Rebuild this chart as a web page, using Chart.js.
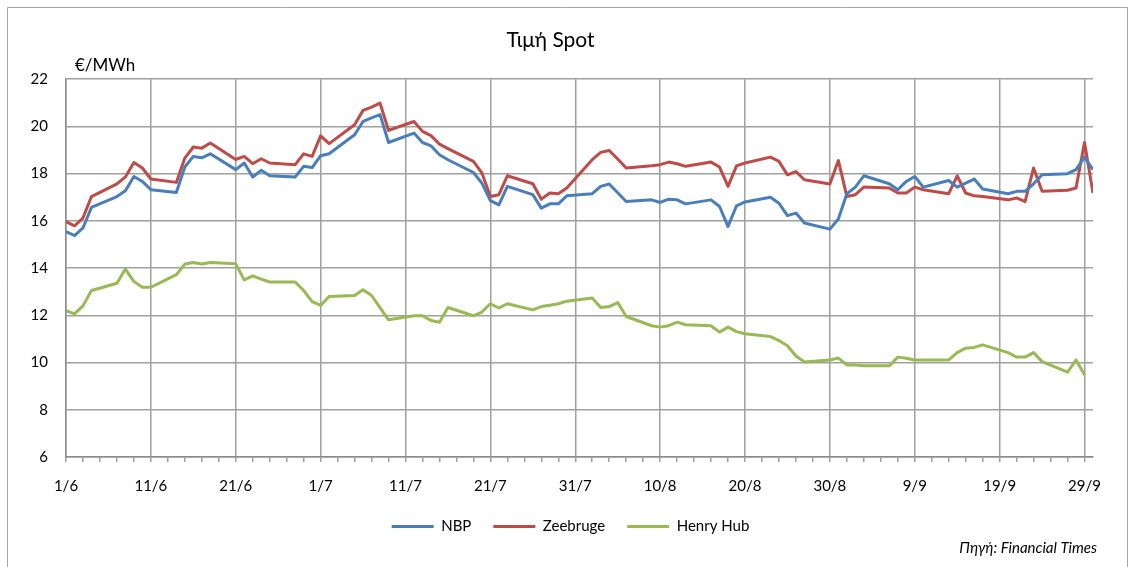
<!DOCTYPE html>
<html>
<head>
<meta charset="utf-8">
<script src="https://cdn.jsdelivr.net/npm/chart.js@4"></script>
<style>
    body { margin: 0; background: #fff; }
    #wrap { width: 1128px; height: 567px; }
</style>
</head>
<body>
<div id="wrap"><canvas id="graficoSpot"></canvas></div>
<script>
// day offset from 1/6 (business days)
const days = [
    0, 1, 2, 3,
    6, 7, 8, 9, 10, 13, 14, 15, 16, 17, 20, 21, 22, 23, 24, 27, 28, 29, 30, 31,
    34, 35, 36, 37, 38, 41, 42, 43, 44, 45, 48, 49, 50, 51, 52, 55, 56, 57, 58, 59,
    62, 63, 64, 65, 66, 69, 70, 71, 72, 73, 76, 77, 78, 79, 80, 83, 84, 85, 86, 87,
    90, 91, 92, 93, 94, 97, 98, 99, 100, 101, 104, 105, 106, 107, 108,
    111, 112, 113, 114, 115, 118, 119, 120, 121
];

const nbp = [
    15.55, 15.38, 15.7, 16.57,
    17.03, 17.28, 17.88, 17.67, 17.32, 17.2, 18.28, 18.73, 18.67, 18.84,
    18.17, 18.45, 17.86, 18.14, 17.91, 17.86, 18.31, 18.26, 18.76, 18.84,
    19.65, 20.21, 20.36, 20.5, 19.32, 19.72, 19.32, 19.18, 18.8, 18.59,
    18.05, 17.6, 16.86, 16.68, 17.46, 17.11, 16.54, 16.72, 16.72, 17.06,
    17.15, 17.46, 17.56, 17.19, 16.82, 16.89, 16.78, 16.92, 16.89, 16.72,
    16.89, 16.61, 15.76, 16.64, 16.8, 17.0, 16.75, 16.22, 16.33, 15.91,
    15.65, 16.08, 17.15, 17.43, 17.91, 17.57, 17.32, 17.67, 17.88, 17.43,
    17.71, 17.43, 17.6, 17.77, 17.35, 17.15, 17.25, 17.25, 17.57, 17.95,
    18.0, 18.17, 18.7, 18.17
];

const zeebrugge = [
    15.97, 15.79, 16.12, 17.03,
    17.57, 17.86, 18.47, 18.24, 17.77, 17.63, 18.66, 19.13, 19.08, 19.3,
    18.6, 18.73, 18.42, 18.63, 18.45, 18.38, 18.84, 18.73, 19.6, 19.27,
    20.07, 20.68, 20.82, 20.99, 19.83, 20.21, 19.79, 19.61, 19.25, 19.06,
    18.52, 18.03, 17.03, 17.11, 17.91, 17.57, 16.92, 17.18, 17.15, 17.39,
    18.59, 18.9, 18.98, 18.62, 18.24, 18.33, 18.38, 18.49, 18.42, 18.31,
    18.49, 18.28, 17.46, 18.33, 18.45, 18.7, 18.52, 17.95, 18.09, 17.74,
    17.56, 18.56, 17.03, 17.11, 17.43, 17.39, 17.18, 17.18, 17.43, 17.32,
    17.15, 17.91, 17.18, 17.06, 17.03, 16.89, 16.97, 16.82, 18.24, 17.25,
    17.3, 17.39, 19.32, 17.18
];

const henryHub = [
    12.2, 12.06, 12.4, 13.05,
    13.36, 13.96, 13.43, 13.19, 13.19, 13.72, 14.17, 14.24, 14.17, 14.24,
    14.18, 13.5, 13.67, 13.53, 13.41, 13.41, 13.05, 12.58, 12.42, 12.8,
    12.84, 13.08, 12.84, 12.33, 11.81, 11.98, 11.98, 11.78, 11.71, 12.33,
    11.98, 12.14, 12.49, 12.31, 12.49, 12.23, 12.37, 12.43, 12.49, 12.6,
    12.73, 12.33, 12.37, 12.54, 11.95, 11.56, 11.5, 11.56, 11.71, 11.6,
    11.56, 11.29, 11.5, 11.31, 11.22, 11.1, 10.93, 10.71, 10.28, 10.02,
    10.11, 10.19, 9.9, 9.9, 9.86, 9.86, 10.23, 10.18, 10.11, 10.11,
    10.11, 10.42, 10.61, 10.64, 10.75, 10.42, 10.23, 10.23, 10.42, 10.04,
    9.59, 10.11, 9.48
];

const dateLabels = ["1/6", "11/6", "21/6", "1/7", "11/7", "21/7", "31/7", "10/8", "20/8", "30/8", "9/9", "19/9", "29/9"];

const fonte = "Lato, 'Noto Sans', sans-serif";
const cinza = "#a0a0a0";

function pontos(valores) {
    return days.map((d, i) => ({ x: d, y: valores[i] ?? null }));
}

function serie(nome, valores, cor) {
    return {
        label: nome,
        data: pontos(valores),
        borderColor: cor,
        backgroundColor: cor,
        borderWidth: 3,
        pointBorderColor: cor,
        pointBorderWidth: 3
    };
}

// extra texts + outer frame
const extras = {
    id: "extras",
    afterLayout(chart) {
        // legend sits a bit higher and more to the right in the original
        const lg = chart.legend;
        lg.top -= 13;
        lg.bottom -= 13;
        lg.left += 20;
        lg.right += 20;
    },
    beforeDraw(chart) {
        const c = chart.ctx;
        c.save();
        c.fillStyle = "#fff";
        c.fillRect(0, 0, chart.width, chart.height);
        c.restore();
    },
    afterDraw(chart) {
        const c = chart.ctx;
        c.save();
        c.strokeStyle = "#a6a6a6";
        c.lineWidth = 1;
        c.beginPath();
        c.moveTo(7.5, chart.height);
        c.lineTo(7.5, 7.5);
        c.lineTo(1127.5, 7.5);
        c.lineTo(1127.5, chart.height);
        c.stroke();

        c.fillStyle = "#000";
        c.textBaseline = "middle";
        c.font = "17px " + fonte;
        c.textAlign = "left";
        c.fillText("€/MWh", 75, 66);

        c.font = "italic 15px " + fonte;
        c.textAlign = "right";
        c.fillText("Πηγή: Financial Times", 1097, 548);
        c.restore();
    }
};

Chart.defaults.font.family = fonte;
Chart.defaults.color = "#000";

new Chart(document.getElementById("graficoSpot"), {
    type: "line",
    data: {
        datasets: [
            serie("NBP", nbp, "#4a7ebb"),
            serie("Zeebruge", zeebrugge, "#be4b48"),
            serie("Henry Hub", henryHub, "#98b954")
        ]
    },
    options: {
        responsive: true,
        maintainAspectRatio: false,
        animation: false,
        elements: {
            point: { radius: 0 },
            line: { tension: 0, borderJoinStyle: "round" }
        },
        layout: {
            padding: { left: 8, right: 35, top: 8, bottom: 10 }
        },
        plugins: {
            title: {
                display: true,
                text: "Τιμή Spot",
                font: { size: 21, weight: "normal" },
                padding: { top: 20, bottom: 26 }
            },
            legend: {
                position: "bottom",
                labels: {
                    usePointStyle: true,
                    pointStyle: "line",
                    pointStyleWidth: 42,
                    padding: 22,
                    font: { size: 15 }
                }
            },
            tooltip: { enabled: false }
        },
        scales: {
            x: {
                type: "linear",
                min: 0,
                max: 121,
                afterBuildTicks: (s) => {
                    const t = [];
                    for (let v = 0; v <= 120; v += 2) t.push({ value: v });
                    s.ticks = t;
                },
                ticks: {
                    autoSkip: false,
                    maxRotation: 0,
                    padding: 15,
                    font: { size: 15 },
                    callback: (v) => (v % 10 === 0 ? dateLabels[v / 10] : "")
                },
                grid: {
                    color: (ctx) => (ctx.tick && ctx.tick.value % 10 === 0 ? cinza : "rgba(0,0,0,0)"),
                    tickColor: cinza,
                    tickLength: 5,
                    lineWidth: 1.5
                },
                border: { color: "#8c8c8c", width: 1.5 }
            },
            y: {
                min: 6,
                max: 22,
                afterFit: (s) => { s.width = 58; },
                ticks: {
                    stepSize: 2,
                    padding: 18,
                    font: { size: 15 }
                },
                grid: {
                    color: cinza,
                    lineWidth: 1.5,
                    drawTicks: false
                },
                border: { color: "#8c8c8c", width: 1.5 }
            }
        }
    },
    plugins: [extras]
});
</script>
</body>
</html>
